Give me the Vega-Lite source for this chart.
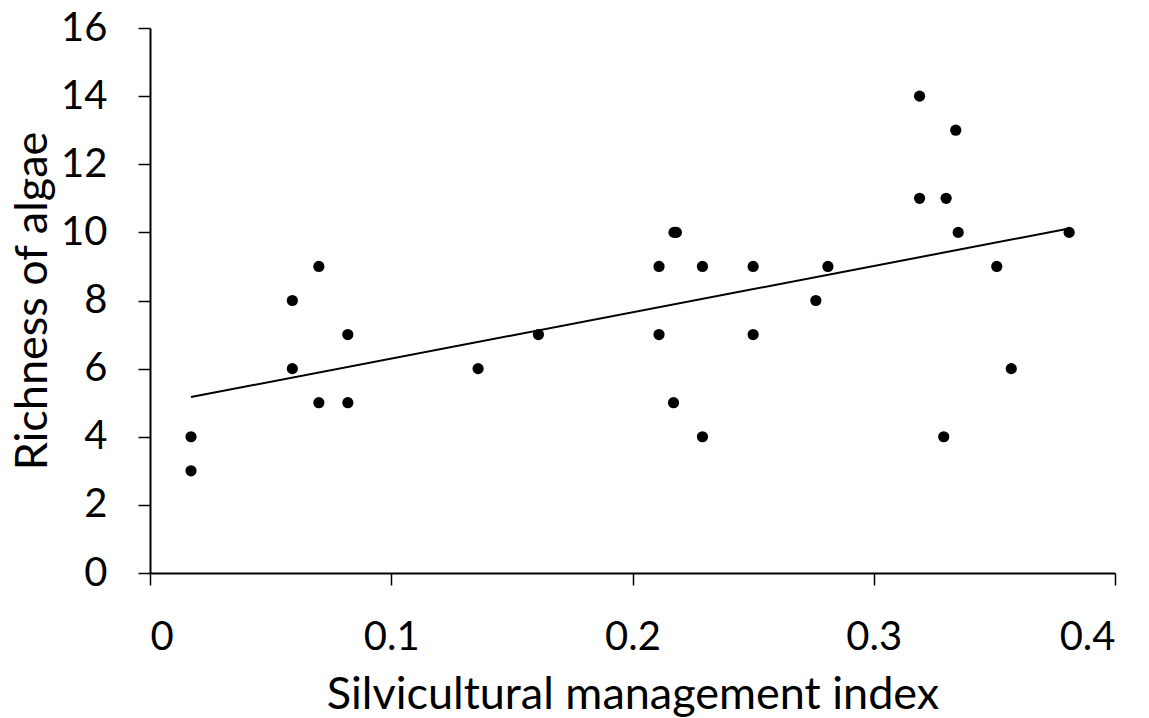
{
  "$schema": "https://vega.github.io/schema/vega-lite/v6.json",
  "width": 965,
  "height": 545,
  "autosize": {"type": "none"},
  "padding": {"left": 150, "top": 28, "right": 34, "bottom": 145},
  "background": "white",
  "config": {
    "view": {"stroke": null},
    "axis": {
      "grid": false,
      "domainColor": "black",
      "tickColor": "black",
      "labelColor": "black",
      "titleColor": "black",
      "labelFont": "Lato",
      "titleFont": "Lato",
      "labelFontSize": 40,
      "titleFontSize": 45,
      "titleFontWeight": "normal",
      "domainWidth": 2,
      "tickWidth": 1.5,
      "tickSize": 12
    }
  },
  "data": {
    "values": [
      {"smi": 0.017, "richness": 4},
      {"smi": 0.017, "richness": 3},
      {"smi": 0.059, "richness": 8},
      {"smi": 0.059, "richness": 6},
      {"smi": 0.070, "richness": 9},
      {"smi": 0.070, "richness": 5},
      {"smi": 0.082, "richness": 7},
      {"smi": 0.082, "richness": 5},
      {"smi": 0.136, "richness": 6},
      {"smi": 0.161, "richness": 7},
      {"smi": 0.211, "richness": 9},
      {"smi": 0.211, "richness": 7},
      {"smi": 0.2172, "richness": 10},
      {"smi": 0.2182, "richness": 10},
      {"smi": 0.217, "richness": 5},
      {"smi": 0.229, "richness": 9},
      {"smi": 0.229, "richness": 4},
      {"smi": 0.250, "richness": 9},
      {"smi": 0.250, "richness": 7},
      {"smi": 0.276, "richness": 8},
      {"smi": 0.281, "richness": 9},
      {"smi": 0.319, "richness": 14},
      {"smi": 0.319, "richness": 11},
      {"smi": 0.329, "richness": 4},
      {"smi": 0.330, "richness": 11},
      {"smi": 0.334, "richness": 13},
      {"smi": 0.335, "richness": 10},
      {"smi": 0.351, "richness": 9},
      {"smi": 0.357, "richness": 6},
      {"smi": 0.381, "richness": 10}
    ]
  },
  "layer": [
    {
      "mark": {"type": "point", "filled": true, "color": "black", "size": 125, "opacity": 1},
      "encoding": {
        "x": {
          "field": "smi",
          "type": "quantitative",
          "scale": {"domain": [0, 0.4], "nice": false, "zero": false},
          "axis": {
            "values": [0, 0.1, 0.2, 0.3, 0.4],
            "format": "~g",
            "title": "Silvicultural management index",
            "labelPadding": 32,
            "titleBaseline": "alphabetic",
            "titleY": 135
          }
        },
        "y": {
          "field": "richness",
          "type": "quantitative",
          "scale": {"domain": [0, 16], "nice": false},
          "axis": {
            "values": [0, 2, 4, 6, 8, 10, 12, 14, 16],
            "format": "~g",
            "title": "Richness of algae",
            "labelPadding": 31,
            "titleBaseline": "alphabetic",
            "titleX": -104
          }
        }
      }
    },
    {
      "transform": [{"regression": "richness", "on": "smi"}],
      "mark": {"type": "line", "color": "black", "strokeWidth": 2},
      "encoding": {
        "x": {"field": "smi", "type": "quantitative"},
        "y": {"field": "richness", "type": "quantitative"}
      }
    }
  ]
}
